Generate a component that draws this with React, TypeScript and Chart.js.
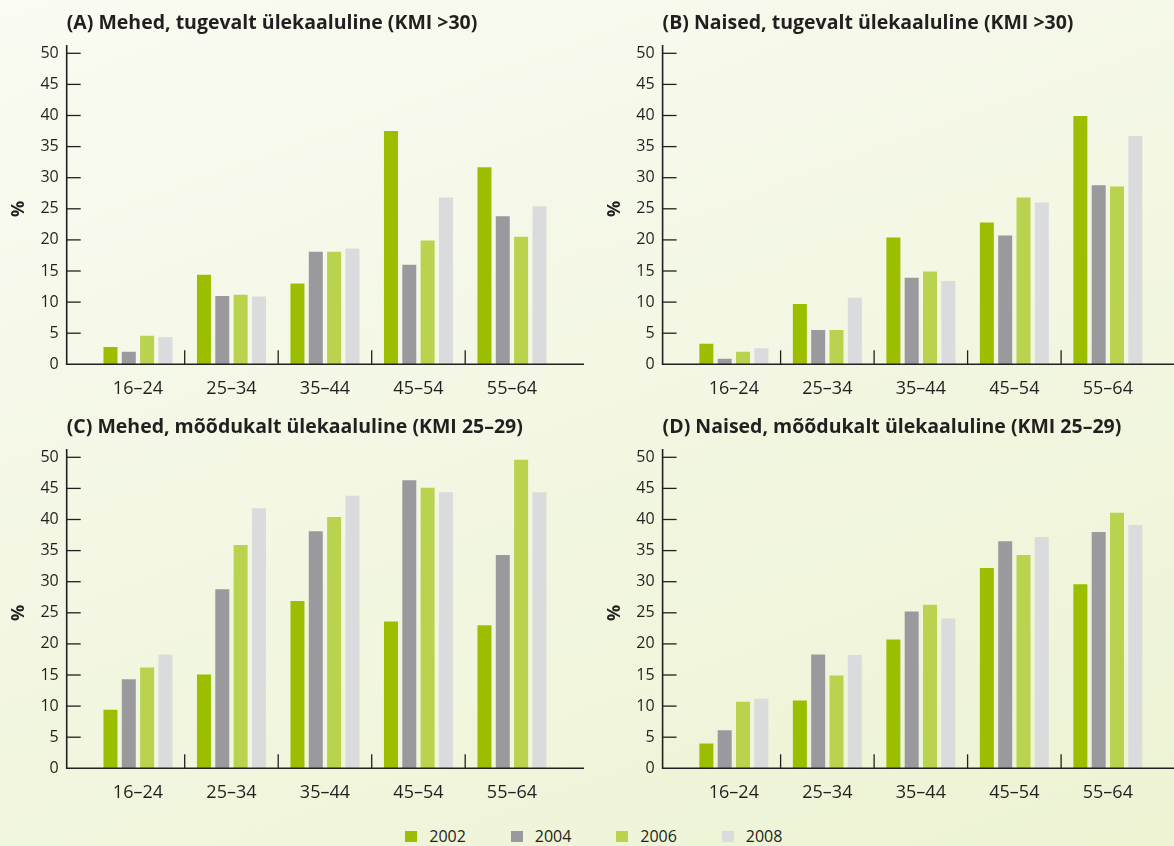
import React, { useEffect, useRef } from 'react';
import { Chart, registerables } from 'chart.js';

Chart.register(...registerables);

// ---------- data ----------
const ageGroups = ['16–24', '25–34', '35–44', '45–54', '55–64'];
const years = ['2002', '2004', '2006', '2008'];
const yearColors = ['#9bbf00', '#9a999e', '#b9d34f', '#d9dbdc'];
const yMin = 0;
const yMax = 50;
const yStep = 5;

// (A) Mehed, tugevalt ülekaaluline (KMI >30)
const menObese2002 = [2.8, 14.4, 13.0, 37.5, 31.7];
const menObese2004 = [2.0, 11.0, 18.1, 16.0, 23.8];
const menObese2006 = [4.6, 11.2, 18.1, 19.9, 20.5];
const menObese2008 = [4.4, 10.9, 18.6, 26.8, 25.4];

// (B) Naised, tugevalt ülekaaluline (KMI >30)
const womenObese2002 = [3.3, 9.7, 20.4, 22.8, 39.9];
const womenObese2004 = [0.9, 5.5, 13.9, 20.7, 28.8];
const womenObese2006 = [2.0, 5.5, 14.9, 26.8, 28.6];
const womenObese2008 = [2.6, 10.7, 13.4, 26.0, 36.7];

// (C) Mehed, mõõdukalt ülekaaluline (KMI 25–29)
const menOverweight2002 = [9.4, 15.1, 26.9, 23.6, 23.0];
const menOverweight2004 = [14.3, 28.8, 38.1, 46.3, 34.3];
const menOverweight2006 = [16.2, 35.9, 40.4, 45.1, 49.6];
const menOverweight2008 = [18.3, 41.8, 43.8, 44.4, 44.4];

// (D) Naised, mõõdukalt ülekaaluline (KMI 25–29)
const womenOverweight2002 = [4.0, 10.9, 20.7, 32.2, 29.6];
const womenOverweight2004 = [6.1, 18.3, 25.2, 36.5, 38.0];
const womenOverweight2006 = [10.7, 14.9, 26.3, 34.3, 41.1];
const womenOverweight2008 = [11.2, 18.2, 24.1, 37.2, 39.1];

const titleA = '(A) Mehed, tugevalt ülekaaluline (KMI >30)';
const titleB = '(B) Naised, tugevalt ülekaaluline (KMI >30)';
const titleC = '(C) Mehed, mõõdukalt ülekaaluline (KMI 25–29)';
const titleD = '(D) Naised, mõõdukalt ülekaaluline (KMI 25–29)';
const yAxisLabel = '%';

// ---------- styling / layout ----------
const INK = '#231f20';
const FONT = '"Open Sans", "Noto Sans", sans-serif';
const CANVAS_W = 587;
const CANVAS_H = 400;
const CHART_TOP = 53.3;
const CHART_BOTTOM = 364.3;
const CAT_W = 93.5;
const Y_GAP = 24.5;

type PanelProps = {
  title: string;
  series: number[][];
  left: number;
  top: number;
  axisX: number;
  lineEnd: number;
};

function Panel({ title, series, left, top, axisX, lineEnd }: PanelProps) {
  const ref = useRef<HTMLCanvasElement | null>(null);

  useEffect(() => {
    if (!ref.current) return;
    const plotLeft = axisX + Y_GAP;
    const plotRight = plotLeft + CAT_W * ageGroups.length;

    const axesPlugin = {
      id: 'customAxes',
      afterDatasetsDraw(chart: any) {
        const { ctx, scales } = chart;
        const xs = scales.x;
        const ys = scales.y;
        const y0 = ys.getPixelForValue(yMin);
        const yTop = ys.getPixelForValue(yMax);
        ctx.save();
        ctx.strokeStyle = INK;
        ctx.lineCap = 'butt';

        // y axis line
        ctx.lineWidth = 1.6;
        ctx.beginPath();
        ctx.moveTo(axisX, yTop - 8.3);
        ctx.lineTo(axisX, y0 + 0.8);
        ctx.stroke();

        // x axis line
        ctx.beginPath();
        ctx.moveTo(axisX, y0);
        ctx.lineTo(lineEnd, y0);
        ctx.stroke();

        // y tick marks (pointing inwards)
        ctx.lineWidth = 1.3;
        ys.ticks.forEach((t: any) => {
          if (t.value === yMin) return;
          const py = ys.getPixelForValue(t.value);
          ctx.beginPath();
          ctx.moveTo(axisX, py);
          ctx.lineTo(axisX + 14, py);
          ctx.stroke();
        });

        // category boundary ticks
        for (let i = 1; i < ageGroups.length; i++) {
          const px = (xs.getPixelForValue(i - 1) + xs.getPixelForValue(i)) / 2;
          ctx.beginPath();
          ctx.moveTo(px, y0);
          ctx.lineTo(px, y0 - 14);
          ctx.stroke();
        }

        // title
        ctx.fillStyle = INK;
        ctx.font = `bold 19.5px ${FONT}`;
        ctx.textAlign = 'left';
        ctx.textBaseline = 'alphabetic';
        ctx.fillText(title, axisX, 28.5);

        // y axis label
        ctx.translate(axisX - 48, (y0 + yTop) / 2);
        ctx.rotate(-Math.PI / 2);
        ctx.textAlign = 'center';
        ctx.textBaseline = 'middle';
        ctx.font = `bold 18px ${FONT}`;
        ctx.fillText(yAxisLabel, 0, 0);
        ctx.restore();
      },
    };

    const chart = new Chart(ref.current, {
      type: 'bar',
      data: {
        labels: ageGroups,
        datasets: years.map((yr, i) => ({
          label: yr,
          data: series[i],
          backgroundColor: yearColors[i],
          borderWidth: 0,
          barPercentage: 0.764,
          categoryPercentage: 0.784,
        })),
      },
      options: {
        responsive: false,
        animation: false,
        devicePixelRatio: 1,
        layout: {
          padding: {
            left: 0,
            right: CANVAS_W - plotRight,
            top: CHART_TOP,
            bottom: 0,
          },
        },
        plugins: {
          legend: { display: false },
          title: { display: false },
          tooltip: { enabled: false },
        },
        scales: {
          x: {
            type: 'category',
            offset: true,
            grid: { display: false, drawTicks: false, tickLength: 0 },
            border: { display: false },
            ticks: {
              color: INK,
              font: { family: FONT, size: 18 },
              padding: 14,
              maxRotation: 0,
              autoSkip: false,
            },
            afterFit: (scale: any) => {
              scale.height = CANVAS_H - CHART_BOTTOM;
              scale.paddingLeft = 0;
              scale.paddingRight = 0;
            },
          },
          y: {
            min: yMin,
            max: yMax,
            grid: { display: false, drawTicks: false, tickLength: 0 },
            border: { display: false },
            ticks: {
              stepSize: yStep,
              color: INK,
              font: { family: FONT, size: 16 },
              padding: Y_GAP + 8,
            },
            afterFit: (scale: any) => {
              scale.width = plotLeft;
              scale.paddingTop = 0;
              scale.paddingBottom = 0;
            },
          },
        },
      },
      plugins: [axesPlugin],
    });

    return () => chart.destroy();
  }, [title, series, axisX, lineEnd]);

  return (
    <canvas
      ref={ref}
      width={CANVAS_W}
      height={CANVAS_H}
      style={{ position: 'absolute', left, top, width: CANVAS_W, height: CANVAS_H }}
    />
  );
}

const panels: PanelProps[] = [
  {
    title: titleA,
    series: [menObese2002, menObese2004, menObese2006, menObese2008],
    left: 0, top: 0, axisX: 66.7, lineEnd: 584,
  },
  {
    title: titleB,
    series: [womenObese2002, womenObese2004, womenObese2006, womenObese2008],
    left: 587, top: 0, axisX: 75.6, lineEnd: 587,
  },
  {
    title: titleC,
    series: [menOverweight2002, menOverweight2004, menOverweight2006, menOverweight2008],
    left: 0, top: 404, axisX: 66.7, lineEnd: 584,
  },
  {
    title: titleD,
    series: [womenOverweight2002, womenOverweight2004, womenOverweight2006, womenOverweight2008],
    left: 587, top: 404, axisX: 75.6, lineEnd: 587,
  },
];

export default function App() {
  return (
    <div
      style={{
        position: 'fixed',
        left: 0,
        top: 0,
        width: 1174,
        height: 846,
        overflow: 'hidden',
        background: 'linear-gradient(160deg, #fafbf2 0%, #f3f7e4 45%, #edf3d3 100%)',
      }}
    >
      {panels.map((p) => (
        <Panel key={p.title} {...p} />
      ))}
      <div
        style={{
          position: 'absolute',
          left: 405,
          top: 828.3,
          display: 'flex',
          fontFamily: FONT,
          fontSize: 16,
          lineHeight: '16px',
          color: INK,
        }}
      >
        {years.map((yr, i) => (
          <div key={yr} style={{ width: 105.5, display: 'flex', alignItems: 'flex-start' }}>
            <span
              style={{
                display: 'inline-block',
                width: 12,
                height: 11,
                marginTop: 2.4,
                marginRight: 12.3,
                background: yearColors[i],
              }}
            />
            <span>{yr}</span>
          </div>
        ))}
      </div>
    </div>
  );
}
